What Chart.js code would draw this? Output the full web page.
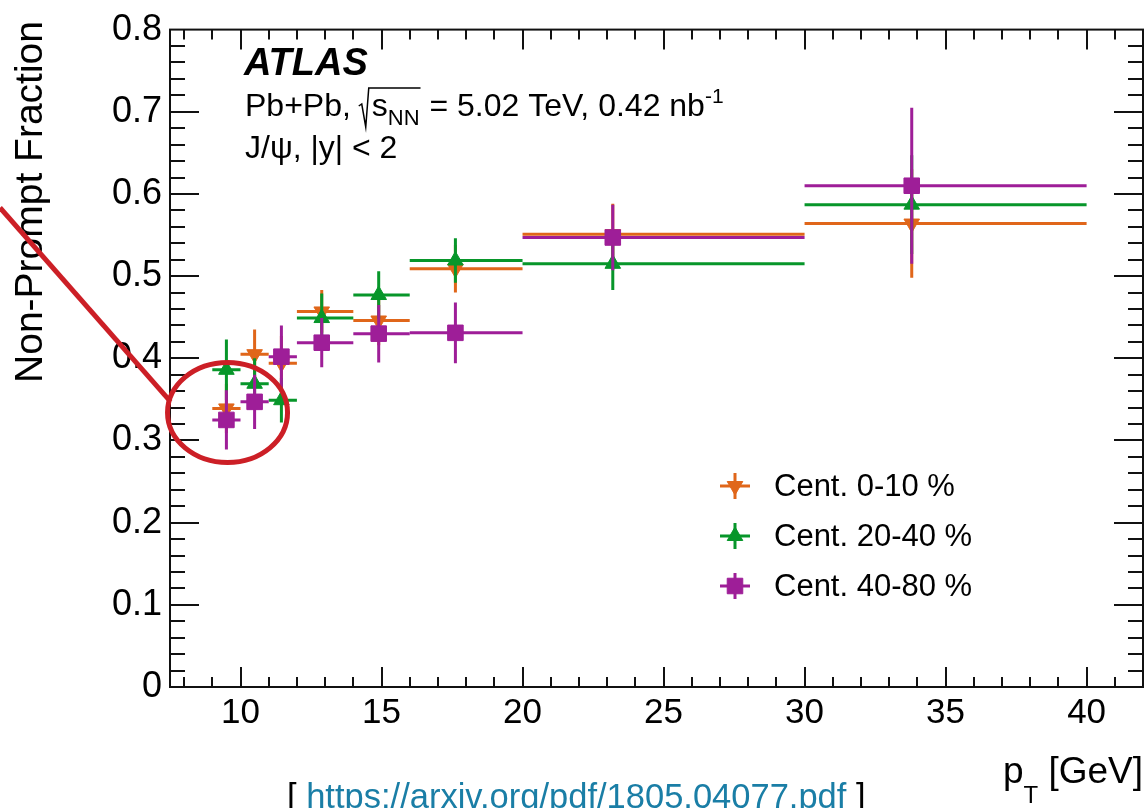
<!DOCTYPE html>
<html>
<head>
<meta charset="utf-8">
<title>Non-prompt J/psi fraction, Pb+Pb</title>
<script src="https://cdn.jsdelivr.net/npm/chart.js@4.4.1/dist/chart.umd.min.js"></script>
<style>
  html, body { margin: 0; padding: 0; background: #fff; }
  #wrap { position: relative; width: 1148px; height: 808px; overflow: hidden; }
  #npChart { display: block; }
  #source {
    position: absolute; left: 287px; top: 779px;
    font: 34.5px "Liberation Sans", Arial, sans-serif; line-height: 35px;
    color: #000; white-space: nowrap;
  }
  #source span { color: #1a7ea6; }
</style>
</head>
<body>
<div id="wrap">
  <canvas id="npChart" width="1148" height="808"></canvas>
  <div id="source">[ <span>https://arxiv.org/pdf/1805.04077.pdf</span> ]</div>
</div>
<script>
const FONT = '"Liberation Sans", Arial, Helvetica, sans-serif';

// pT bins [GeV] and mean pT in each bin
const binLow  = [9, 10, 11, 12, 14, 16, 20, 30];
const binHigh = [10, 11, 12, 14, 16, 20, 30, 40];
const ptMean  = [9.5, 10.5, 11.45, 12.88, 14.9, 17.62, 23.2, 33.8];

// non-prompt fraction and total uncertainty per centrality class
const frac0to10  = [0.339, 0.405, 0.394, 0.457, 0.446, 0.509, 0.551, 0.564];
const err0to10   = [0.030, 0.030, 0.033, 0.026, 0.030, 0.029, 0.037, 0.066];
const frac20to40 = [0.386, 0.369, 0.349, 0.449, 0.477, 0.519, 0.515, 0.587];
const err20to40  = [0.037, 0.031, 0.027, 0.030, 0.029, 0.027, 0.032, 0.060];
const frac40to80 = [0.325, 0.347, 0.402, 0.419, 0.430, 0.431, 0.547, 0.610];
const err40to80  = [0.036, 0.033, 0.038, 0.030, 0.035, 0.037, 0.040, 0.095];

const xTickValues = [10, 15, 20, 25, 30, 35, 40];
const yTickValues = [0, 0.1, 0.2, 0.3, 0.4, 0.5, 0.6, 0.7, 0.8];

// circled low-pT region (centre in axis units)
const ringCentre = { x: 9.54, y: 0.334 };

function toPoints(frac, err) {
    return ptMean.map((x, i) => ({ x: x, y: frac[i], xLo: binLow[i], xHi: binHigh[i], yErr: err[i] }));
}

function makeSet(label, frac, err, color, style, rotation, radius, order) {
    return {
        label: label,
        data: toPoints(frac, err),
        backgroundColor: color,
        borderColor: color,
        pointStyle: style,
        pointRotation: rotation,
        pointRadius: radius,
        pointHoverRadius: radius,
        pointBorderWidth: 1,
        order: order
    };
}

const datasets = [
    makeSet('Cent. 0-10 %',  frac0to10,  err0to10,  '#e0661a', 'triangle', 180, 9, 2),
    makeSet('Cent. 20-40 %', frac20to40, err20to40, '#07962a', 'triangle', 0,   9, 1),
    makeSet('Cent. 40-80 %', frac40to80, err40to80, '#9e1e98', 'rect',     0,  11, 0)
];

// ==================== error bars (bin width + vertical uncertainty) ====================
const errorBars = {
    id: 'errorBars',
    beforeDatasetDraw(chart, args) {
        const ds = chart.data.datasets[args.index];
        const xs = chart.scales.x, ys = chart.scales.y;
        const ctx = chart.ctx;
        ctx.save();
        ctx.strokeStyle = ds.borderColor;
        ctx.lineWidth = 3;
        ds.data.forEach(p => {
            const px = xs.getPixelForValue(p.x);
            const py = ys.getPixelForValue(p.y);
            ctx.beginPath();
            ctx.moveTo(xs.getPixelForValue(p.xLo), py);
            ctx.lineTo(xs.getPixelForValue(p.xHi), py);
            ctx.moveTo(px, ys.getPixelForValue(p.y - p.yErr));
            ctx.lineTo(px, ys.getPixelForValue(p.y + p.yErr));
            ctx.stroke();
        });
        ctx.restore();
    }
};

// ==================== frame with inward ticks on all sides ====================
const frame = {
    id: 'frame',
    afterDatasetsDraw(chart) {
        const { ctx, chartArea: a, scales: { x, y } } = chart;
        ctx.save();
        ctx.strokeStyle = '#111';
        ctx.lineWidth = 2;
        ctx.strokeRect(a.left, a.top, a.right - a.left, a.bottom - a.top);
        ctx.beginPath();
        for (let v = Math.ceil(x.min); v < x.max; v++) {
            const px = Math.round(x.getPixelForValue(v));
            const len = v % 5 === 0 ? 20 : 10;
            ctx.moveTo(px, a.bottom); ctx.lineTo(px, a.bottom - len);
            ctx.moveTo(px, a.top);    ctx.lineTo(px, a.top + len);
        }
        for (let k = 1; k < 40; k++) {
            const py = Math.round(y.getPixelForValue(k * 0.02));
            const len = k % 5 === 0 ? 29 : 15;
            ctx.moveTo(a.left, py);  ctx.lineTo(a.left + len, py);
            ctx.moveTo(a.right, py); ctx.lineTo(a.right - len, py);
        }
        ctx.stroke();
        ctx.restore();
    }
};

// draw a run of text pieces with size / vertical offset, returns end x
function drawRuns(ctx, x, y, runs) {
    runs.forEach(r => {
        ctx.font = (r.weight || '') + ' ' + r.size + 'px ' + FONT;
        ctx.fillText(r.t, x, y + (r.dy || 0));
        x += ctx.measureText(r.t).width;
    });
    return x;
}

// ==================== labels, legend, axis titles, highlight ring ====================
const labels = {
    id: 'labels',
    afterDraw(chart) {
        const { ctx, chartArea: a, scales: { x, y } } = chart;
        ctx.save();
        ctx.fillStyle = '#000';
        ctx.textAlign = 'left';
        ctx.textBaseline = 'alphabetic';

        // ATLAS tag
        ctx.font = 'italic bold 38px ' + FONT;
        ctx.fillText('ATLAS', 244, 75);

        // collision system line with sqrt(s_NN)
        let cx = drawRuns(ctx, 245, 116, [{ t: 'Pb+Pb, ', size: 32 }]);
        ctx.strokeStyle = '#000';
        ctx.lineWidth = 1.5;
        ctx.beginPath();
        ctx.moveTo(cx - 1, 106);
        ctx.lineTo(cx + 2, 104);
        ctx.lineTo(cx + 6, 127);
        ctx.lineTo(cx + 9, 88);
        cx = drawRuns(ctx, cx + 12, 116, [
            { t: 's', size: 32 },
            { t: 'NN', size: 22, dy: 9 }
        ]);
        ctx.lineTo(cx + 1, 88);
        ctx.stroke();
        cx = drawRuns(ctx, cx + 1, 116, [
            { t: ' = 5.02 TeV, 0.42 nb', size: 32 },
            { t: '-1', size: 21, dy: -13 }
        ]);

        drawRuns(ctx, 245, 158, [{ t: 'J/\u03C8, |y| < 2', size: 32 }]);

        // legend
        const rows = [486, 536, 586];
        chart.data.datasets.forEach((ds, i) => {
            const ly = rows[i], lx = 735;
            ctx.strokeStyle = ds.borderColor;
            ctx.fillStyle = ds.backgroundColor;
            ctx.lineWidth = 3;
            ctx.beginPath();
            ctx.moveTo(lx - 15, ly); ctx.lineTo(lx + 15, ly);
            ctx.moveTo(lx, ly - 13); ctx.lineTo(lx, ly + 13);
            ctx.stroke();
            ctx.lineWidth = 1;
            Chart.helpers.drawPoint(ctx, {
                pointStyle: ds.pointStyle, rotation: ds.pointRotation,
                radius: ds.pointRadius, borderWidth: 1
            }, lx, ly);
            ctx.fillStyle = '#000';
            ctx.font = '31px ' + FONT;
            ctx.textBaseline = 'middle';
            ctx.fillText(ds.label, 774, ly + 1);
            ctx.textBaseline = 'alphabetic';
        });

        // y axis title, ending at the top of the frame
        ctx.save();
        ctx.translate(42, 21);
        ctx.rotate(-Math.PI / 2);
        ctx.textAlign = 'right';
        ctx.font = '39px ' + FONT;
        ctx.fillStyle = '#000';
        ctx.fillText('Non-Prompt Fraction', 0, 0);
        ctx.restore();

        // x axis title, right aligned to the frame
        ctx.fillStyle = '#000';
        ctx.font = '37px ' + FONT;
        const unit = ' [GeV]';
        const wUnit = ctx.measureText(unit).width;
        ctx.font = '24px ' + FONT;
        const wSub = ctx.measureText('T').width;
        ctx.font = '37px ' + FONT;
        const wP = ctx.measureText('p').width;
        let tx = a.right - wUnit - wSub - wP;
        ctx.fillText('p', tx, 783);
        ctx.font = '24px ' + FONT;
        ctx.fillText('T', tx + wP, 803);
        ctx.font = '37px ' + FONT;
        ctx.fillText(unit, tx + wP + wSub, 783);

        // red ring around the lowest-pT points with a pointer to the left edge
        const rx = x.getPixelForValue(ringCentre.x);
        const ry = y.getPixelForValue(ringCentre.y);
        ctx.strokeStyle = '#cc1f26';
        ctx.lineWidth = 5;
        ctx.beginPath();
        ctx.ellipse(rx, ry, 60, 50, 0, 0, Math.PI * 2);
        ctx.stroke();
        const ex = rx - 57, ey = ry - 11;
        ctx.beginPath();
        ctx.moveTo(ex, ey);
        ctx.lineTo(0, ey - ex * 1.137);
        ctx.stroke();

        ctx.restore();
    }
};

Chart.defaults.font.family = FONT;
Chart.defaults.color = '#000';

new Chart(document.getElementById('npChart'), {
    type: 'scatter',
    data: { datasets: datasets },
    options: {
        responsive: false,
        animation: false,
        events: [],
        layout: { autoPadding: false, padding: { left: 0, top: 24, right: 5, bottom: 0 } },
        plugins: { legend: { display: false }, tooltip: { enabled: false } },
        scales: {
            x: {
                type: 'linear',
                min: 7.5,
                max: 42,
                grid: { display: false, drawTicks: false },
                border: { display: false },
                afterBuildTicks: s => { s.ticks = xTickValues.map(v => ({ value: v })); },
                afterFit: s => { s.height = 121; },
                ticks: { padding: 5, color: '#000', font: { size: 35 }, maxRotation: 0, autoSkip: false }
            },
            y: {
                type: 'linear',
                min: 0,
                max: 0.8,
                grid: { display: false, drawTicks: false },
                border: { display: false },
                afterBuildTicks: s => { s.ticks = yTickValues.map(v => ({ value: v })); },
                afterFit: s => { s.width = 170; },
                ticks: {
                    padding: 8, color: '#000', font: { size: 36 }, autoSkip: false,
                    callback: v => v === 0 ? '0' : v.toFixed(1)
                }
            }
        }
    },
    plugins: [errorBars, frame, labels]
});
</script>
</body>
</html>
